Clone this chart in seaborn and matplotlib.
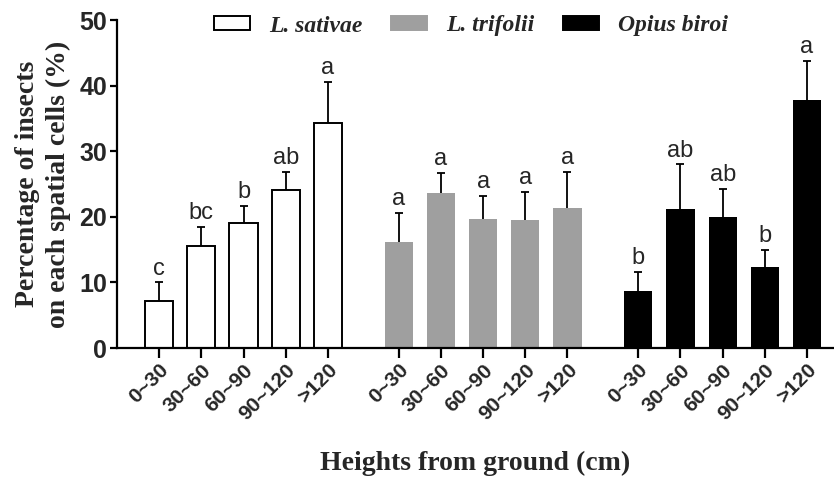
import numpy as np
import pandas as pd
import seaborn as sns
import matplotlib.pyplot as plt
from matplotlib.patches import Patch

heights = ["0~30", "30~60", "60~90", "90~120", ">120"]
species = ["L. sativae", "L. trifolii", "Opius biroi"]

sativae_mean = [7.2, 15.5, 19.0, 24.1, 34.3]
sativae_err = [2.8, 3.0, 2.7, 2.8, 6.3]
sativae_sig = ["c", "bc", "b", "ab", "a"]

trifolii_mean = [16.1, 23.7, 19.6, 19.5, 21.4]
trifolii_err = [4.5, 3.0, 3.6, 4.3, 5.4]
trifolii_sig = ["a", "a", "a", "a", "a"]

biroi_mean = [8.7, 21.2, 20.0, 12.3, 37.8]
biroi_err = [2.9, 6.8, 4.3, 2.6, 6.0]
biroi_sig = ["b", "ab", "ab", "b", "a"]

colors = {"L. sativae": "white", "L. trifolii": "#9f9f9f", "Opius biroi": "black"}

# build long table, group gap of ~1.68 bar slots
gap = 5.68
rows = []
for g, (sp, m, e, s) in enumerate(zip(species,
                                      [sativae_mean, trifolii_mean, biroi_mean],
                                      [sativae_err, trifolii_err, biroi_err],
                                      [sativae_sig, trifolii_sig, biroi_sig])):
    for i, h in enumerate(heights):
        rows.append({"pos": g * gap + i, "height": h, "species": sp,
                     "mean": m[i], "err": e[i], "sig": s[i]})
df = pd.DataFrame(rows)

sns.set_style("ticks")
plt.rcParams["font.family"] = ["Liberation Sans", "DejaVu Sans"]

fig = plt.figure(figsize=(8.34, 4.79), dpi=100)
ax = fig.add_axes([117 / 834, 1 - 348 / 479, 1 - 117 / 834, (348 - 20) / 479])

sns.barplot(data=df, x="pos", y="mean", hue="species", palette=colors,
            native_scale=True, dodge=False, width=0.67, errorbar=None,
            legend=False, ax=ax)

for bar, sp in zip(ax.patches, df["species"]):
    if sp == "L. sativae":
        bar.set_edgecolor("black")
        bar.set_linewidth(1.4)
    else:
        bar.set_edgecolor("none")

# upper-only error bars
_, caps, _ = ax.errorbar(df["pos"], df["mean"], yerr=[np.zeros(len(df)), df["err"]],
                         fmt="none", ecolor="black", elinewidth=1.3,
                         capsize=3, capthick=1.3, zorder=5)
caps[0].set_visible(False)

for _, r in df.iterrows():
    ax.annotate(r["sig"], (r["pos"], r["mean"] + r["err"]), xytext=(0, 2),
                textcoords="offset points", ha="center", va="bottom", fontsize=17)

ax.set_xlim(-1.0, 16.0)
ax.set_ylim(0, 50)
ax.set_yticks(range(0, 51, 10))
ax.set_xticks(df["pos"])
ax.set_xticklabels(df["height"], rotation=45, ha="right", va="top", rotation_mode="anchor",
                   fontsize=15, fontweight="bold")
for t in ax.get_yticklabels():
    t.set_fontsize(18)
    t.set_fontweight("bold")

sns.despine(ax=ax)
for s in ["left", "bottom"]:
    ax.spines[s].set_linewidth(1.6)
    ax.spines[s].set_color("black")
ax.tick_params(axis="y", length=5, width=1.6, pad=2, color="black")
ax.tick_params(axis="x", length=7, width=1.6, pad=2, color="black")

ax.set_ylabel("Percentage of insects\non each spatial cells (%)", family="Liberation Serif",
              fontsize=20, fontweight="bold", linespacing=1.3, labelpad=6)
ax.set_xlabel("Heights from ground (cm)", family="Liberation Serif",
              fontsize=20, fontweight="bold")
ax.xaxis.set_label_coords(0.5, -0.315)

handles = [Patch(facecolor=colors[sp], edgecolor="black" if sp == "L. sativae" else colors[sp],
                 linewidth=1.4) for sp in species]
fig.legend(handles, species, ncol=3, loc="center", bbox_to_anchor=(471 / 834, 1 - 26 / 479),
           frameon=False, handlelength=1.53, handleheight=0.55, handletextpad=0.8,
           columnspacing=1.2,
           prop={"family": "Liberation Serif", "weight": "bold", "style": "italic", "size": 17})

fig.savefig("out.png", dpi=100)
